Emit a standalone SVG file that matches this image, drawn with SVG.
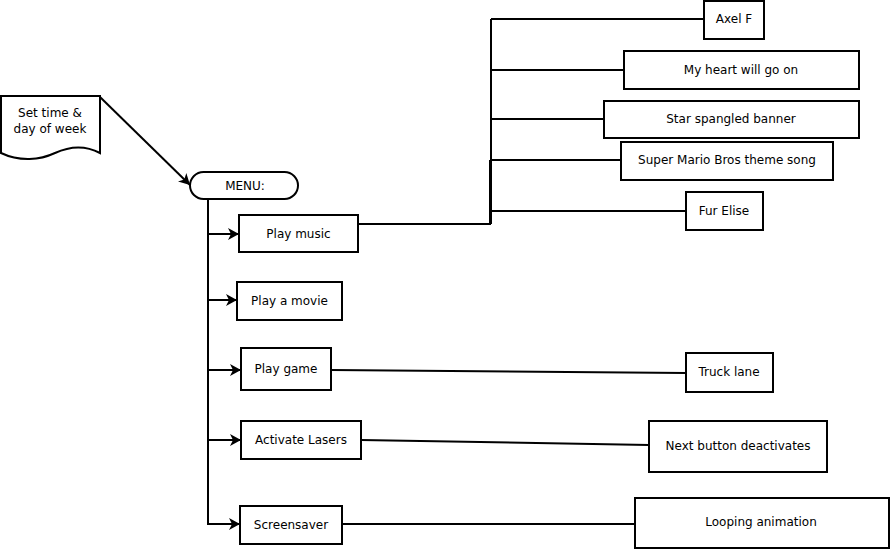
<svg xmlns="http://www.w3.org/2000/svg" width="892" height="551" viewBox="0 0 892 551">
<style>
.box{fill:#fff;stroke:#000;stroke-width:2}
.ln{fill:none;stroke:#000;stroke-width:2}
text{font-family:"DejaVu Sans",sans-serif;font-size:12px;fill:#000;text-anchor:middle;dominant-baseline:central}
</style>
<defs>
<marker id="arr" markerWidth="12" markerHeight="12" refX="11" refY="6" orient="auto" markerUnits="userSpaceOnUse">
<path d="M0,0 L11,6 L0,12 L3,6 Z" fill="#000"/>
</marker>
</defs>
<rect width="892" height="551" fill="#fff"/>
<g id="connectors">
<line class="ln" x1="100" y1="97" x2="190" y2="185" marker-end="url(#arr)"/>
<polyline class="ln" points="208,199 208,524"/>
<line class="ln" x1="207" y1="234" x2="239" y2="234" marker-end="url(#arr)"/>
<line class="ln" x1="207" y1="300" x2="237" y2="300" marker-end="url(#arr)"/>
<line class="ln" x1="207" y1="370" x2="241" y2="370" marker-end="url(#arr)"/>
<line class="ln" x1="207" y1="440" x2="241" y2="440" marker-end="url(#arr)"/>
<line class="ln" x1="207" y1="524" x2="240" y2="524" marker-end="url(#arr)"/>
<polyline class="ln" points="358,224 490,224 490,160"/>
<line class="ln" x1="491" y1="19" x2="491" y2="224"/>
<line class="ln" x1="491" y1="19" x2="704" y2="19"/>
<line class="ln" x1="491" y1="70" x2="624" y2="70"/>
<line class="ln" x1="491" y1="119" x2="604" y2="119"/>
<line class="ln" x1="491" y1="160" x2="621" y2="160"/>
<line class="ln" x1="491" y1="211" x2="686" y2="211"/>
<line class="ln" x1="331" y1="370" x2="686" y2="373"/>
<line class="ln" x1="361" y1="440" x2="649" y2="445"/>
<line class="ln" x1="342" y1="524" x2="635" y2="524"/>
</g>
<g id="set-time">
<path class="box" d="M1,96 L100,96 L100,153 C85,145 70,146 55,153 C40,160 20,162 1,153 Z"/>
<text x="50" y="113">Set time &amp;</text>
<text x="50" y="129">day of week</text>
</g>
<g id="menu">
<rect class="box" x="190" y="172" width="108" height="27" rx="13.5"/>
<text x="245" y="186">MENU:</text>
</g>
<g id="play-music"><rect class="box" x="239" y="215" width="119" height="37"/><text x="298.5" y="234">Play music</text></g>
<g id="play-movie"><rect class="box" x="237" y="282" width="105" height="38"/><text x="289.5" y="301">Play a movie</text></g>
<g id="play-game"><rect class="box" x="241" y="348" width="90" height="42"/><text x="286" y="369">Play game</text></g>
<g id="activate-lasers"><rect class="box" x="241" y="421" width="120" height="38"/><text x="301" y="440">Activate Lasers</text></g>
<g id="screensaver"><rect class="box" x="240" y="506" width="102" height="38"/><text x="291" y="525">Screensaver</text></g>
<g id="axel-f"><rect class="box" x="704" y="1" width="60" height="38"/><text x="734" y="19">Axel F</text></g>
<g id="my-heart"><rect class="box" x="624" y="51" width="235" height="38"/><text x="741" y="70">My heart will go on</text></g>
<g id="star-spangled"><rect class="box" x="604" y="101" width="255" height="37"/><text x="731" y="119">Star spangled banner</text></g>
<g id="super-mario"><rect class="box" x="621" y="142" width="212" height="38"/><text x="727" y="160">Super Mario Bros theme song</text></g>
<g id="fur-elise"><rect class="box" x="686" y="192" width="77" height="38"/><text x="724" y="211">Fur Elise</text></g>
<g id="truck-lane"><rect class="box" x="686" y="353" width="87" height="39"/><text x="729" y="372">Truck lane</text></g>
<g id="next-button"><rect class="box" x="649" y="421" width="178" height="51"/><text x="738" y="446">Next button deactivates</text></g>
<g id="looping"><rect class="box" x="635" y="498" width="254" height="50"/><text x="761" y="522">Looping animation</text></g>
</svg>
